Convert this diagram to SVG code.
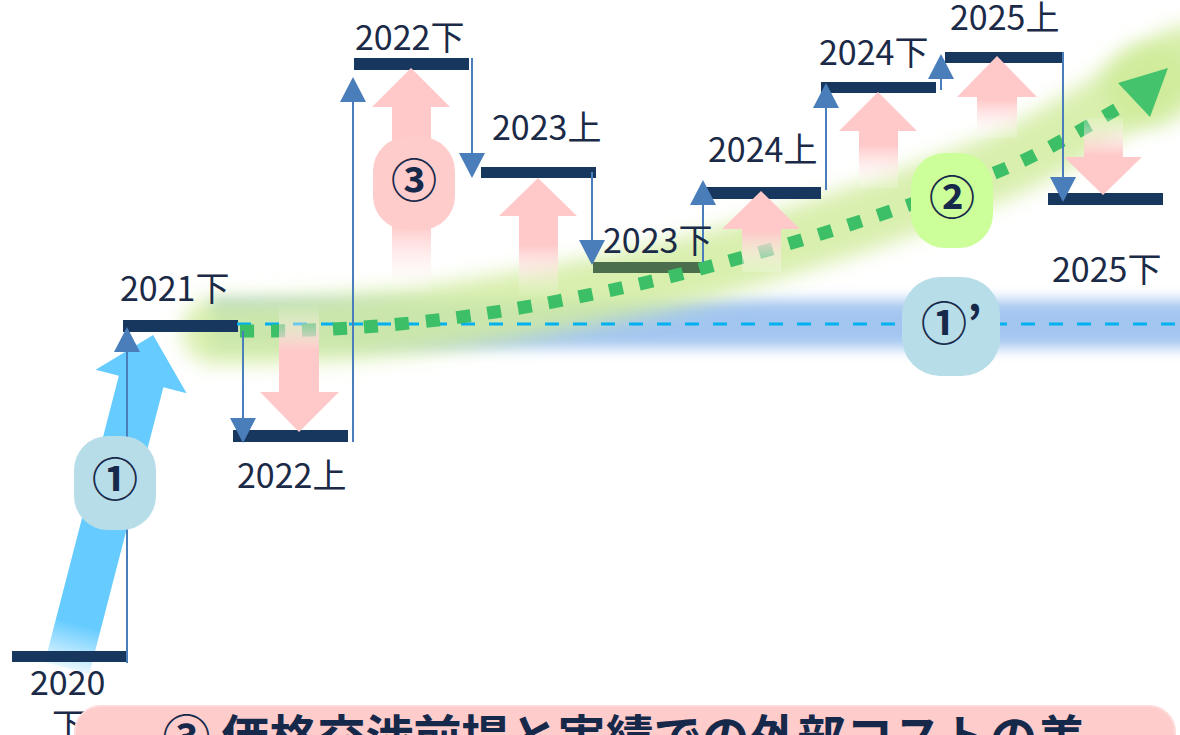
<svg xmlns="http://www.w3.org/2000/svg" width="1180" height="735" viewBox="0 0 1180 735">
<defs>
<style>
.bar{fill:#17375e}
.lbl{font-family:"Noto Sans CJK JP","Noto Sans",sans-serif;font-size:34px;fill:#1b2a47}
.conn{stroke:#4a7ebb;stroke-width:2;fill:none;marker-end:url(#tri)}
.badge-t{font-family:"Noto Sans CJK JP","Noto Sans",sans-serif;font-size:46px;font-weight:bold;fill:#17294a;text-anchor:middle}
</style>
<marker id="tri" markerUnits="userSpaceOnUse" markerWidth="25" markerHeight="26" viewBox="0 0 25 26" refX="0" refY="13" orient="auto">
<path d="M0,0 L25,13 L0,26 z" fill="#4a7ebb"/>
</marker>
<filter id="blur" x="-20%" y="-100%" width="140%" height="300%"><feGaussianBlur stdDeviation="7"/></filter>
<filter id="blur2" x="-20%" y="-50%" width="140%" height="200%"><feGaussianBlur stdDeviation="10"/></filter>
<linearGradient id="gBlue" gradientUnits="userSpaceOnUse" x1="0" y1="0" x2="0" y2="-45">
<stop offset="0" stop-color="#66ccff" stop-opacity="0.15"/><stop offset="1" stop-color="#66ccff"/>
</linearGradient>
<linearGradient id="p1" gradientUnits="userSpaceOnUse" x1="0" y1="305" x2="0" y2="350"><stop offset="0" stop-color="#ffffff" stop-opacity="0"/><stop offset="1" stop-color="#ffc9c9"/></linearGradient>
<linearGradient id="p2" gradientUnits="userSpaceOnUse" x1="0" y1="225" x2="0" y2="295"><stop offset="0" stop-color="#ffc9c9"/><stop offset="1" stop-color="#ffffff" stop-opacity="0"/></linearGradient>
<linearGradient id="p3" gradientUnits="userSpaceOnUse" x1="0" y1="245" x2="0" y2="298"><stop offset="0" stop-color="#ffc9c9"/><stop offset="1" stop-color="#ffffff" stop-opacity="0"/></linearGradient>
<linearGradient id="p4" gradientUnits="userSpaceOnUse" x1="0" y1="232" x2="0" y2="272"><stop offset="0" stop-color="#ffc9c9"/><stop offset="1" stop-color="#ffffff" stop-opacity="0.2"/></linearGradient>
<linearGradient id="p5" gradientUnits="userSpaceOnUse" x1="0" y1="145" x2="0" y2="188"><stop offset="0" stop-color="#ffc9c9"/><stop offset="1" stop-color="#ffffff" stop-opacity="0.15"/></linearGradient>
<linearGradient id="p6" gradientUnits="userSpaceOnUse" x1="0" y1="100" x2="0" y2="138"><stop offset="0" stop-color="#ffc9c9"/><stop offset="1" stop-color="#ffffff" stop-opacity="0.15"/></linearGradient>
<linearGradient id="p7" gradientUnits="userSpaceOnUse" x1="0" y1="118" x2="0" y2="155"><stop offset="0" stop-color="#ffffff" stop-opacity="0.15"/><stop offset="1" stop-color="#ffc9c9"/></linearGradient>
</defs>
<rect width="1180" height="735" fill="#ffffff"/>

<g id="glows">
<rect x="212" y="300" width="985" height="48" fill="#a3c6f0" filter="url(#blur)"/>
<path d="M215,331 C400,332 520,305 626,284 S890,212 997,168 C1060,140 1120,100 1185,58" fill="none" stroke="#d2eca0" stroke-opacity="0.85" stroke-width="66" stroke-linecap="round" filter="url(#blur2)"/>
<ellipse cx="1150" cy="85" rx="45" ry="42" fill="#cdea95" opacity="0.75" filter="url(#blur2)"/>
</g>

<g id="arrow-1">
<polygon transform="translate(67,668) rotate(14.5)" points="-23,0 23,0 23,-296 47,-296 0,-344 -47,-296 -23,-296" fill="url(#gBlue)"/>
</g>

<g id="bars">
<rect id="b2020" class="bar" x="12" y="651" width="115" height="11"/>
<rect id="b2021s" class="bar" x="123" y="320" width="115" height="12"/>
<rect id="b2022f" class="bar" x="233" y="430" width="115" height="12"/>
<rect id="b2022s" class="bar" x="354" y="58" width="115" height="12"/>
<rect id="b2023f" class="bar" x="481" y="167" width="115" height="11"/>
<rect id="b2023s" x="593" y="262" width="115" height="11" fill="#4b6e4d"/>
<rect id="b2024f" class="bar" x="705" y="187" width="116" height="12"/>
<rect id="b2024s" class="bar" x="821" y="82" width="115" height="11"/>
<rect id="b2025f" class="bar" x="945" y="52" width="118" height="11"/>
<rect id="b2025s" class="bar" x="1048" y="193" width="115" height="12"/>
</g>

<g id="trend-lines">
<line x1="237" y1="324" x2="1176" y2="324" stroke="#00b0f0" stroke-width="3" stroke-dasharray="14 14"/>
<path d="M240,331 C400,332 520,310 626,287 S890,215 997,172 C1040,155 1090,125 1122,106" fill="none" stroke="#3cbf66" stroke-width="13" stroke-dasharray="14 17"/>
<polygon points="1168,68 1118,83 1150,117" fill="#44c36c"/>
</g>

<g id="pink-arrows">
<polygon points="279,305 319,305 319,392 339,392 299,432 260,392 279,392" fill="url(#p1)"/>
<polygon points="411,68 450,107 431,107 431,295 392,295 392,107 372,107" fill="url(#p2)"/>
<polygon points="538,178 577,216 558,216 558,298 519,298 519,216 499,216" fill="url(#p3)"/>
<polygon points="761,191 800,229 781,229 781,272 742,272 742,229 722,229" fill="url(#p4)"/>
<polygon points="878,92 917,131 898,131 898,188 859,188 859,131 839,131" fill="url(#p5)"/>
<polygon points="997,56 1037,97 1017,97 1017,138 977,138 977,97 957,97" fill="url(#p6)"/>
<polygon points="1084,118 1123,118 1123,157 1142,157 1103,195 1064,157 1084,157" fill="url(#p7)"/>
</g>

<g id="connectors">
<path class="conn" d="M127,663 V352"/>
<path class="conn" d="M243,331 V418"/>
<path class="conn" d="M353,442 V102"/>
<path class="conn" d="M472,58 V153"/>
<path class="conn" d="M592,172 V240"/>
<path class="conn" d="M703,262 V205"/>
<path class="conn" d="M826,190 V108"/>
<path class="conn" d="M941,90 V79"/>
<path class="conn" d="M1063,52 V177"/>
</g>

<g id="badge-1">
<rect x="74" y="436" width="82" height="94" rx="34" fill="#b7dde8"/>
<text class="badge-t" x="115" y="496">①</text>
</g>
<g id="badge-1p">
<rect x="902" y="277" width="98" height="99" rx="38" fill="#b7dde8"/>
<text class="badge-t" x="921" y="340" style="text-anchor:start">①’</text>
</g>
<g id="badge-2">
<rect x="911" y="153" width="82" height="95" rx="34" fill="#ccff99"/>
<text class="badge-t" x="952" y="214">②</text>
</g>
<g id="badge-3">
<rect x="373" y="137" width="82" height="93" rx="34" fill="#ffcccc"/>
<text class="badge-t" x="414" y="197">③</text>
</g>

<g id="labels">
<text class="lbl" x="30" y="695">2020</text>
<text class="lbl" x="52" y="738">下</text>
<text class="lbl" x="120" y="301">2021下</text>
<text class="lbl" x="237" y="488">2022上</text>
<text class="lbl" x="355" y="50">2022下</text>
<text class="lbl" x="492" y="140">2023上</text>
<text class="lbl" x="603" y="253">2023下</text>
<text class="lbl" x="708" y="162">2024上</text>
<text class="lbl" x="819" y="65">2024下</text>
<text class="lbl" x="950" y="30">2025上</text>
<text class="lbl" x="1052" y="282">2025下</text>
</g>

<g id="banner">
<rect x="75" y="706" width="1100" height="70" rx="26" fill="#ffcccc" stroke="#ffdada" stroke-width="2"/>
<text x="624" y="755" text-anchor="middle" font-family="'Noto Sans CJK JP','Noto Sans',sans-serif" font-size="48" font-weight="bold" fill="#17294a">③ 価格交渉前提と実績での外部コストの差</text>
</g>
</svg>
